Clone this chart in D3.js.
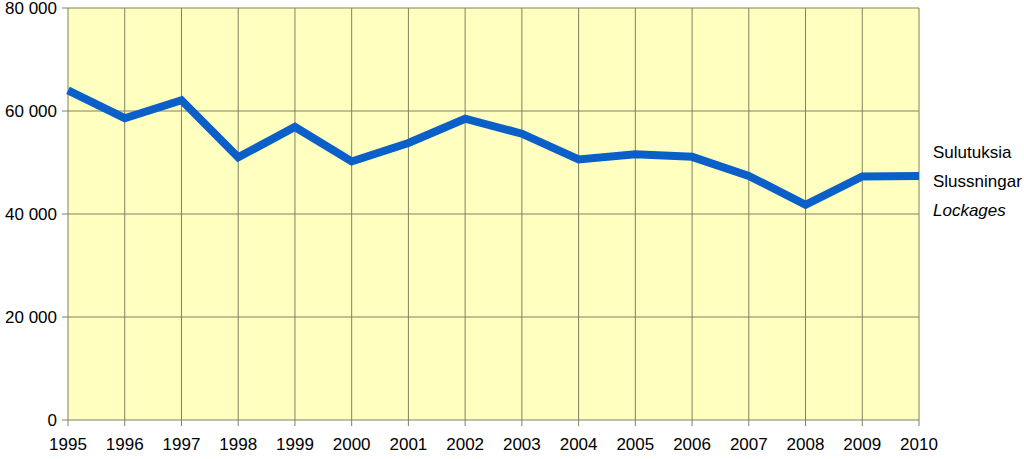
<!DOCTYPE html>
<html><head><meta charset="utf-8">
<script src="https://cdn.jsdelivr.net/npm/d3@7"></script>
<style>body{margin:0;background:#fff}text{font-family:"Liberation Sans Narrow","Liberation Sans",Arial,sans-serif;font-size:17px;fill:#000}</style>
</head><body><svg id="c" width="1024" height="459"></svg>
<script>
var years = d3.range(1995, 2011);
var lockages = [64000, 58600, 62100, 51000, 56900, 50200, 53800, 58500, 55600, 50600, 51600, 51100, 47400, 41800, 47300, 47400];
var yTicks = [0, 20000, 40000, 60000, 80000];
var legend = ["Sulutuksia", "Slussningar", "Lockages"];

var svg = d3.select("#c");
var x = d3.scaleLinear().domain([1995, 2010]).range([68, 919]);
var y = d3.scaleLinear().domain([0, 80000]).range([420, 8]);
var fmt = function(d) { return d3.format(",")(d).replace(/,/g, " "); };

svg.append("rect").attr("x", 68).attr("y", 8).attr("width", 851).attr("height", 412).attr("fill", "#ffffc0");

svg.append("g").selectAll("line").data(yTicks).join("line")
  .attr("x1", 62).attr("x2", 919).attr("y1", y).attr("y2", y)
  .attr("stroke", "#808060").attr("stroke-width", 1);
svg.append("g").selectAll("line").data(years).join("line")
  .attr("x1", x).attr("x2", x).attr("y1", 8).attr("y2", 426)
  .attr("stroke", "#808060").attr("stroke-width", 1);

svg.append("g").selectAll("text").data(yTicks).join("text")
  .attr("x", 57).attr("y", d => y(d) + 6).attr("text-anchor", "end").text(fmt);
svg.append("g").selectAll("text").data(years).join("text")
  .attr("x", x).attr("y", 450).attr("text-anchor", "middle").text(d => d);

svg.append("path").datum(lockages)
  .attr("fill", "none").attr("stroke", "#0a5fc8").attr("stroke-width", 8)
  .attr("stroke-linejoin", "miter")
  .attr("d", d3.line().x((d, i) => x(years[i])).y(d => y(d)));

svg.append("g").selectAll("text").data(legend).join("text")
  .attr("x", 933).attr("y", (d, i) => 158 + i * 29)
  .attr("font-style", (d, i) => i === 2 ? "italic" : null).text(d => d);
</script></body></html>
